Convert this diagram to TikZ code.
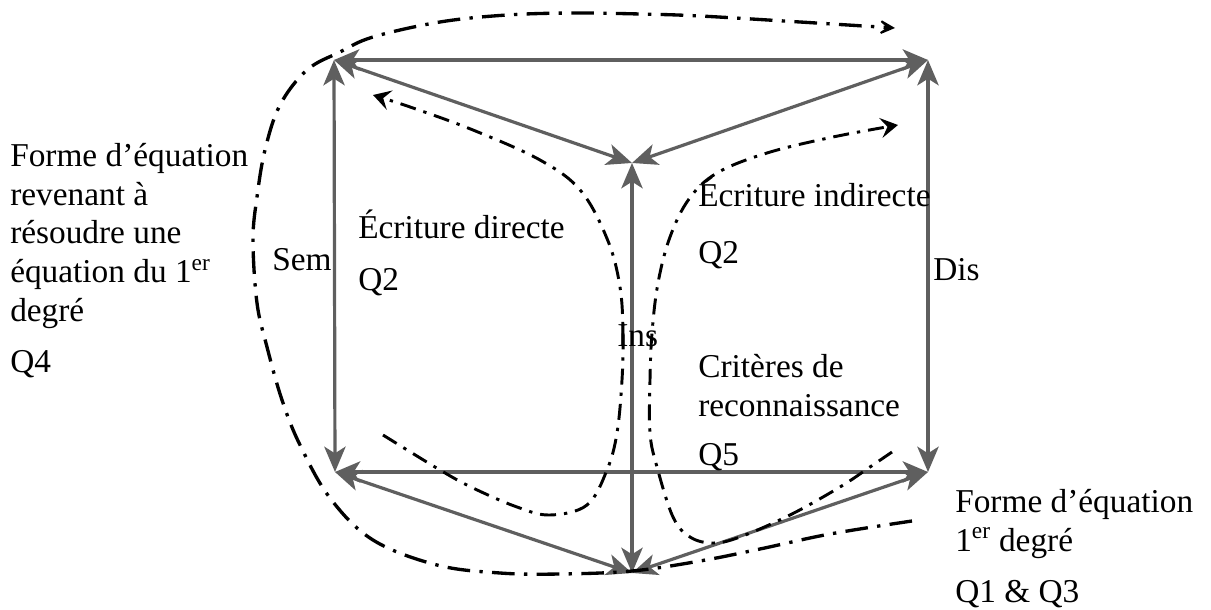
\documentclass[tikz,border=0pt]{standalone}
\usepackage{fontspec}
\setmainfont{Liberation Serif}
\usetikzlibrary{arrows.meta}
\definecolor{edgegray}{HTML}{5F5F5F}
\begin{document}
\begin{tikzpicture}[x=0.75pt,y=-0.75pt,
  garrow/.style={draw=edgegray, line width=2.4pt,
    {Stealth[length=19pt,width=16pt,inset=5pt]}-{Stealth[length=19pt,width=16pt,inset=5pt]}},
  outerpath/.style={line width=2.5pt, dash pattern=on 17pt off 7pt on 2.5pt off 7pt,
    -{Stealth[length=17pt,width=17pt,inset=11pt]}},
  innerpath/.style={line width=2.2pt, dash pattern=on 12pt off 6pt on 2.5pt off 6pt,
    -{Stealth[length=13pt,width=15pt,inset=5pt]}},
  lbl/.style={font=\fontsize{25pt}{29pt}\selectfont, inner sep=0pt, anchor=base west, align=left}]
\useasboundingbox (0,0) rectangle (1211,610);

% vertices
\coordinate (TL) at (334,60);
\coordinate (TR) at (928,60);
\coordinate (C)  at (632,163);
\coordinate (BL) at (335,472);
\coordinate (BR) at (928,472);
\coordinate (B)  at (632,573);

% gray double arrows
\draw[garrow] (TL) -- (TR);
\draw[garrow] (TL) -- (C);
\draw[garrow] (TR) -- (C);
\draw[garrow] (TL) -- (BL);
\draw[garrow] (TR) -- (BR);
\draw[garrow] (BL) -- (BR);
\draw[garrow] (BL) -- (B);
\draw[garrow] (BR) -- (B);
\draw[garrow] (B) -- (C);

% dash-dot curves
\draw[outerpath] plot[smooth, tension=0.6] coordinates {
  (912,521) (830,534) (760,549) (700,561) (632,571) (560,574) (500,573) (437,565)
  (373,540) (330,498) (300,445) (282,400) (267,347) (257,303) (253,240) (257,197)
  (265,150) (280,105) (307,70) (340,52) (373,37) (440,22) (507,15) (573,13)
  (640,14) (700,16) (800,22) (895,28)};
\draw[innerpath] plot[smooth, tension=0.6] coordinates {
  (383,435) (440,470) (473,488) (517,507) (550,515) (587,505) (607,470) (617,433)
  (622,380) (623,333) (620,287) (608,241) (581,191) (540,160) (473,130) (413,108)
  (373,95)};
\draw[innerpath] plot[smooth, tension=0.6] coordinates {
  (892,452) (870,467) (840,487) (790,515) (740,537) (713,543) (690,537) (673,517)
  (657,467) (650,433) (650,380) (652,333) (658,283) (670,237) (689,199) (717,173)
  (767,153) (833,137) (898,125)};

% labels
\node[lbl] (leftform) at (10,321) {Forme d’équation\\revenant à\\résoudre une\\équation du 1\textsuperscript{er}\\degré};
\node[lbl] (q4) at (10,372) {Q4};
\node[lbl] (sem) at (272,270) {Sem};
\node[lbl] (dis) at (933,280) {Dis};
\node[lbl] (ins) at (617,346) {Ins};
\node[lbl] (direct) at (358,238) {Écriture directe};
\node[lbl] (q2a) at (358,290) {Q2};
\node[lbl] (indirect) at (698,206) {Écriture indirecte};
\node[lbl] (q2b) at (698,263) {Q2};
\node[lbl] (crit) at (698,416) {Critères de\\reconnaissance};
\node[lbl] (q5) at (698,465) {Q5};
\node[lbl] (rightform) at (955,551) {Forme d’équation\\1\textsuperscript{er} degré};
\node[lbl] (q13) at (955,602) {Q1 \& Q3};
\end{tikzpicture}
\end{document}
